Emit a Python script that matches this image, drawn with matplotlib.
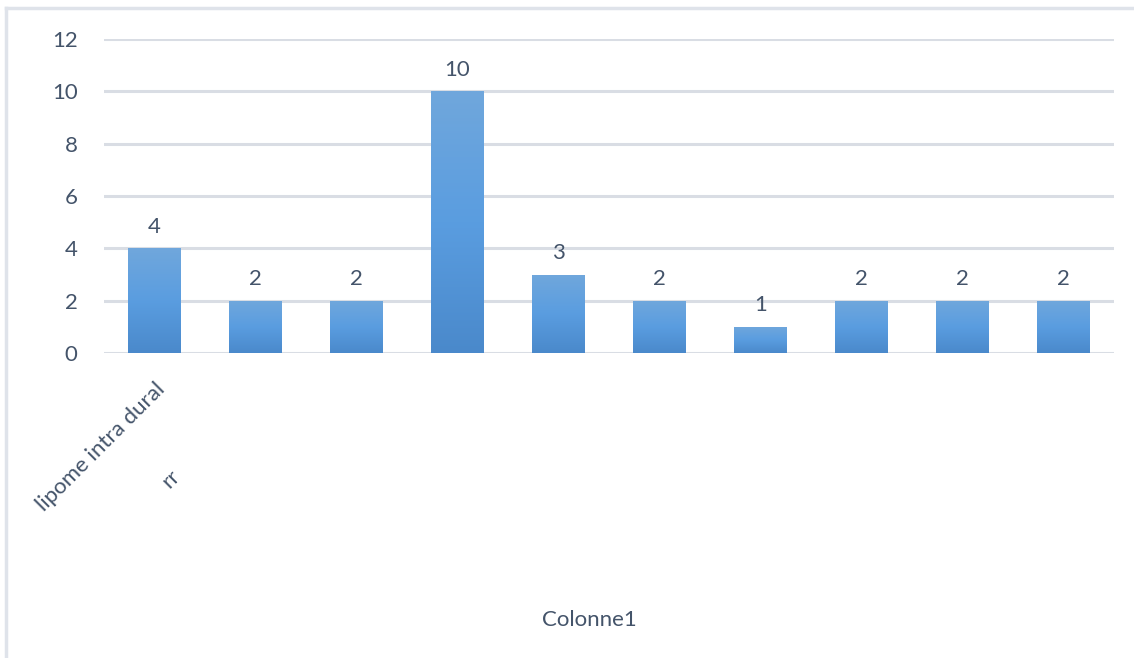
import numpy as np
import matplotlib
matplotlib.use("Agg")
import matplotlib.pyplot as plt
from matplotlib.colors import LinearSegmentedColormap
from matplotlib.lines import Line2D

# bar data
categories = ["lipome intra dural", "rr", "", "", "", "", "", "", "", ""]
values = [4, 2, 2, 10, 3, 2, 1, 2, 2, 2]
yticks = [0, 2, 4, 6, 8, 10, 12]

TEXT = "#44546a"
GRID = "#d9dde4"
FS = 16
plt.rcParams["font.family"] = ["Lato", "DejaVu Sans"]

fig = plt.figure(figsize=(11.34, 6.58), dpi=100)
ax = fig.add_axes([104 / 1134, 1 - 353 / 658, 1010 / 1134, 314 / 658])

x = np.arange(len(values))
bars = ax.bar(x, values, width=0.515, color="#5b9ee0", zorder=2)

# vertical gradient inside every bar (light on top, darker at the base)
cmap = LinearSegmentedColormap.from_list("bar", ["#4a89cb", "#5a9de0", "#70a7dc"])
grad = np.linspace(0, 1, 256).reshape(-1, 1)
for b in bars:
    x0, w, h = b.get_x(), b.get_width(), b.get_height()
    im = ax.imshow(grad, cmap=cmap, origin="lower", aspect="auto",
                   extent=(x0, x0 + w, 0, h), zorder=3)
    im.set_clip_path(b)
    ax.annotate(f"{h:g}", (x0 + w / 2, h), xytext=(0, 8.5), textcoords="offset points",
                ha="center", va="bottom", fontsize=FS, color=TEXT)

ax.set_xlim(-0.5, len(values) - 0.5)
ax.set_ylim(0, 12)
ax.set_yticks(yticks)
ax.yaxis.grid(True, color=GRID, lw=2.2, zorder=0)
ax.set_axisbelow(True)
for s in ax.spines.values():
    s.set_visible(False)
ax.tick_params(axis="y", length=0, pad=19, labelsize=FS, labelcolor=TEXT)
ax.tick_params(axis="x", length=0, pad=19, labelsize=FS, labelcolor=TEXT)

ax.set_xticks(x)
ax.set_xticklabels([categories[0]] + [""] * (len(categories) - 1),
                   rotation=45, ha="right", rotation_mode="anchor")
ax.annotate(categories[1], (1, 0), xytext=(-61, -91), textcoords="offset points",
            rotation=45, ha="center", va="center", fontsize=FS, color=TEXT,
            annotation_clip=False)

fig.text(589 / 1134, 1 - 620 / 658, "Colonne1", ha="center", va="center",
         fontsize=FS, color=TEXT)

# chart frame (top and left edges)
frame = dict(color="#dfe3ea", lw=2.5, transform=fig.transFigure)
fig.add_artist(Line2D([6 / 1134, 1], [1 - 8 / 658, 1 - 8 / 658], **frame))
fig.add_artist(Line2D([6 / 1134, 6 / 1134], [0, 1 - 8 / 658], **frame))

fig.savefig("out.png", dpi=100)
